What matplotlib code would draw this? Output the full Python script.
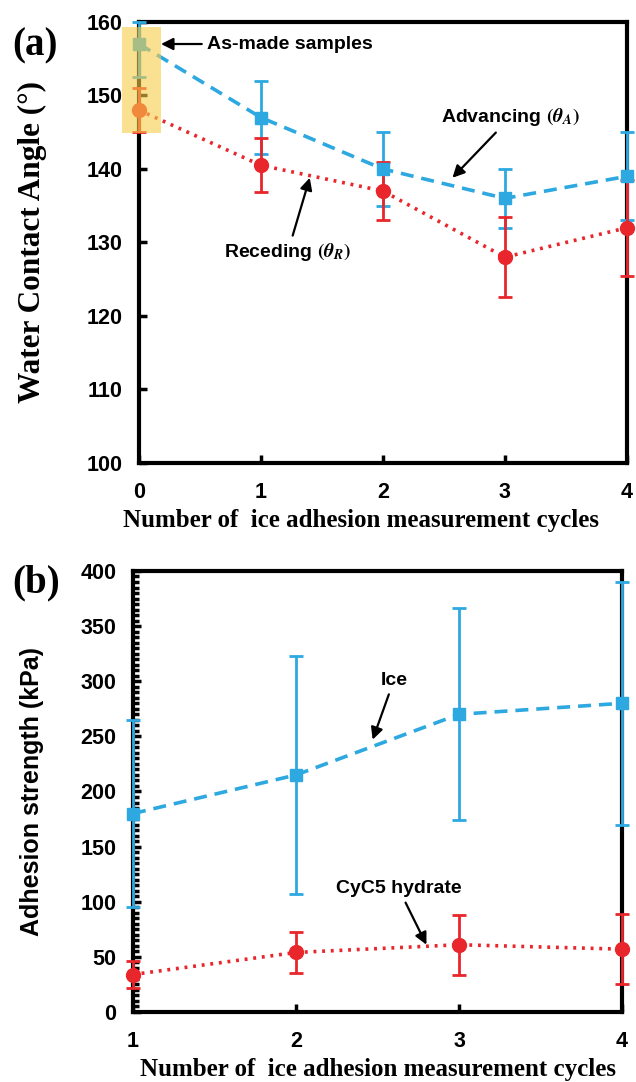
import matplotlib
matplotlib.use("Agg")
import matplotlib.pyplot as plt
from matplotlib.patches import Rectangle
from matplotlib.ticker import MultipleLocator

# ---- data ----
cycles_a = [0, 1, 2, 3, 4]
advancing = [157, 147, 140, 136, 139]
advancing_err_low = [4.5, 5, 5, 4, 6]
advancing_err_high = [3, 5, 5, 4, 6]
receding = [148, 140.5, 137, 128, 132]
receding_err = [3, 3.7, 4, 5.4, 6.5]

cycles_b = [1, 2, 3, 4]
ice = [180, 215, 270, 280]
ice_err = [85, 108, 96, 110]
cyc5 = [34, 54, 61, 57]
cyc5_err = [12, 19, 27, 32]

BLUE = "#2DA8E0"
RED = "#E8262B"
YELLOW = "#F8CC48"

plt.rcParams["mathtext.fontset"] = "stix"

sans = ["Liberation Sans", "DejaVu Sans"]
serif = ["Liberation Serif", "DejaVu Serif"]

fig = plt.figure(figsize=(6.36, 10.82), dpi=100)

tick_fs = 15.5
ann_fs = 14

def style_axes(ax):
    for s in ax.spines.values():
        s.set_linewidth(3)
        s.set_color("black")
    ax.tick_params(axis="both", which="major", direction="in", length=6, width=2.5,
                   labelsize=tick_fs, top=False, right=False)
    ax.tick_params(axis="y", pad=12)
    ax.tick_params(axis="x", pad=14)
    for lab in ax.get_xticklabels() + ax.get_yticklabels():
        lab.set_fontfamily(sans)
        lab.set_fontweight("bold")

def draw_series(ax, x, y, err, color, ls, marker, ms):
    ax.errorbar(x, y, yerr=err, color=color, ls=ls, lw=2.6, marker=marker, ms=ms,
                capsize=5, elinewidth=2, capthick=2, zorder=3, clip_on=False)

# ---------------- panel (a) ----------------
ax1 = fig.add_axes([0.2186, 0.5721, 0.767, 0.4076])
draw_series(ax1, cycles_a, advancing, [advancing_err_low, advancing_err_high],
            BLUE, (0, (3.6, 2.2)), "s", 9)
draw_series(ax1, cycles_a, receding, receding_err, RED, (0, (0.8, 1.6)), "o", 10)
ax1.add_patch(Rectangle((-0.14, 144.9), 0.32, 14.4, facecolor=YELLOW, alpha=0.6,
                        edgecolor="none", clip_on=False, zorder=4))
ax1.set_xlim(0, 4)
ax1.set_ylim(100, 160)
ax1.set_xticks([0, 1, 2, 3, 4])
ax1.set_yticks(range(100, 161, 10))
style_axes(ax1)
ax1.set_ylabel("Water Contact Angle (°)", family=serif, fontweight="bold", fontsize=22.5, labelpad=28)
ax1.set_xlabel("Number of  ice adhesion measurement cycles", family=serif, fontweight="bold",
               fontsize=18, labelpad=6)
ax1.xaxis.set_label_coords(0.455, -0.105)

arrow = dict(arrowstyle="-|>", color="black", lw=1.6, mutation_scale=18, shrinkA=2, shrinkB=0)
ax1.annotate("As-made samples", xy=(0.18, 157), xytext=(0.56, 157),
             fontsize=ann_fs, fontweight="bold", family=sans, ha="left", va="center",
             arrowprops=arrow)
ax1.annotate(r"Advancing $\mathbf{(}\mathbfit{\theta_A}\mathbf{)}$", xy=(2.57, 138.8),
             xytext=(3.05, 145.6),
             fontsize=ann_fs, fontweight="bold", family=sans, ha="center", va="bottom",
             arrowprops=arrow)
ax1.annotate(r"Receding $\mathbf{(}\mathbfit{\theta_R}\mathbf{)}$", xy=(1.40, 138.8),
             xytext=(1.22, 130.2),
             fontsize=ann_fs, fontweight="bold", family=sans, ha="center", va="top",
             arrowprops=arrow)

fig.text(0.02, 0.958, "(a)", family=serif, fontweight="bold", fontsize=28, va="center")

# ---------------- panel (b) ----------------
ax2 = fig.add_axes([0.2091, 0.0647, 0.769, 0.4076])
draw_series(ax2, cycles_b, ice, ice_err, BLUE, (0, (3.6, 2.2)), "s", 9)
draw_series(ax2, cycles_b, cyc5, cyc5_err, RED, (0, (0.8, 1.6)), "o", 10)
ax2.set_xlim(1, 4)
ax2.set_ylim(0, 400)
ax2.set_xticks([1, 2, 3, 4])
ax2.set_yticks(range(0, 401, 50))
ax2.yaxis.set_minor_locator(MultipleLocator(5))
style_axes(ax2)
ax2.tick_params(axis="y", which="minor", direction="in", length=4, width=2.5, right=False)
ax2.set_ylabel("Adhesion strength (kPa)", family=sans, fontweight="bold", fontsize=18, labelpad=26)
ax2.set_xlabel("Number of  ice adhesion measurement cycles", family=serif, fontweight="bold",
               fontsize=18, labelpad=4)

ax2.annotate("Ice", xy=(2.47, 247), xytext=(2.6, 293),
             fontsize=ann_fs, fontweight="bold", family=sans, ha="center", va="bottom",
             arrowprops=arrow)
ax2.annotate("CyC5 hydrate", xy=(2.80, 61), xytext=(2.63, 104),
             fontsize=ann_fs, fontweight="bold", family=sans, ha="center", va="bottom",
             arrowprops=arrow)

fig.text(0.02, 0.461, "(b)", family=serif, fontweight="bold", fontsize=28, va="center")

fig.savefig("out.png", dpi=100, facecolor="white")
